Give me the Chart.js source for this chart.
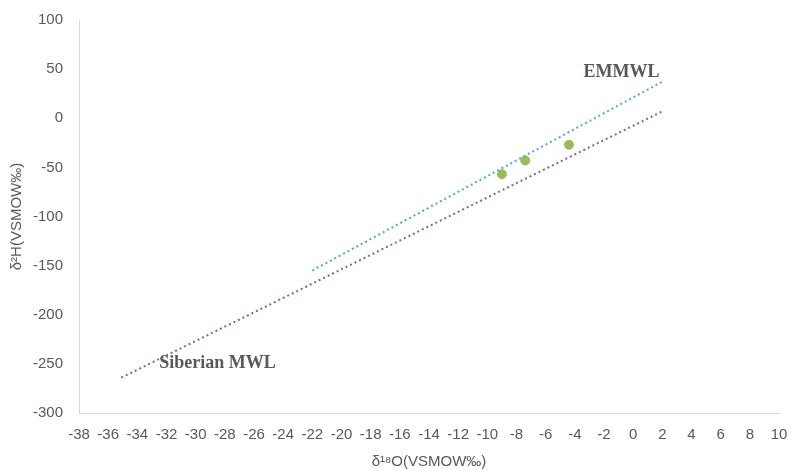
<!DOCTYPE html>
<html>
<head>
<meta charset="utf-8">
<script src="https://cdn.jsdelivr.net/npm/chart.js@4/dist/chart.umd.min.js"></script>
<style>
  html, body { margin: 0; padding: 0; background: #fff; }
  #wrap { width: 791px; height: 471px; }
</style>
</head>
<body>
<div id="wrap"><canvas id="isoChart" width="791" height="471"></canvas></div>
<script>
// dados
const amostrasX = [-9.0, -7.4, -4.4];
const amostrasY = [-57, -43, -27];

const emmwlX = [-22, 2.1];
const emmwlY = [-155, 38];

const siberiaX = [-35.1, 2.0];
const siberiaY = [-264, 7];

// rótulos das retas (posição em unidades do gráfico)
const rotulos = ['EMMWL', 'Siberian MWL'];
const rotulosX = [-0.8, -28.5];
const rotulosY = [47, -249];

const pontos = (xs, ys) => xs.map((x, i) => ({ x: x, y: ys[i] }));
const cinza = '#595959';
const fonte = '"Liberation Sans", Arial, sans-serif';

const rotulosPlugin = {
  id: 'rotulos',
  afterDatasetsDraw(chart) {
    const { ctx, scales } = chart;
    ctx.save();
    ctx.font = 'bold 18px "Liberation Serif", "Times New Roman", serif';
    ctx.fillStyle = cinza;
    ctx.textAlign = 'center';
    ctx.textBaseline = 'middle';
    rotulos.forEach((t, i) => {
      ctx.fillText(t, scales.x.getPixelForValue(rotulosX[i]), scales.y.getPixelForValue(rotulosY[i]));
    });
    ctx.restore();
  }
};

new Chart(document.getElementById('isoChart'), {
  type: 'scatter',
  data: {
    datasets: [
      {
        label: 'EMMWL',
        data: pontos(emmwlX, emmwlY),
        showLine: true,
        borderColor: '#4bacc6',
        borderWidth: 2,
        borderDash: [2, 3],
        pointRadius: 0
      },
      {
        label: 'Siberian MWL',
        data: pontos(siberiaX, siberiaY),
        showLine: true,
        borderColor: '#8064a2',
        borderWidth: 2,
        borderDash: [2, 3],
        pointRadius: 0
      },
      {
        label: 'Amostras',
        data: pontos(amostrasX, amostrasY),
        backgroundColor: '#9bbb59',
        borderColor: '#9bbb59',
        pointRadius: 4.5
      }
    ]
  },
  options: {
    responsive: false,
    animation: false,
    layout: { padding: { top: 20, right: 12, left: 0, bottom: 0 } },
    plugins: {
      legend: { display: false },
      tooltip: { enabled: false }
    },
    scales: {
      x: {
        type: 'linear',
        min: -38,
        max: 10,
        grid: { display: false, drawTicks: false },
        border: { display: true, color: '#d9d9d9', width: 1 },
        ticks: {
          stepSize: 2,
          color: cinza,
          padding: 13,
          maxRotation: 0,
          autoSkip: false,
          font: { family: fonte, size: 15 }
        },
        title: {
          display: true,
          text: 'δ¹⁸O(VSMOW‰)',
          color: cinza,
          padding: { top: 4, bottom: 0 },
          font: { family: fonte, size: 15 }
        },
        afterFit(scale) {
          scale.height = 58;
          scale.paddingLeft = 0;
          scale.paddingRight = 0;
        }
      },
      y: {
        type: 'linear',
        min: -300,
        max: 100,
        grid: { display: false, drawTicks: false },
        border: { display: true, color: '#d9d9d9', width: 1 },
        ticks: {
          stepSize: 50,
          color: cinza,
          padding: 16,
          font: { family: fonte, size: 15 }
        },
        title: {
          display: true,
          text: 'δ²H(VSMOW‰)',
          color: cinza,
          padding: { top: 8, bottom: 0 },
          font: { family: fonte, size: 15 }
        },
        afterFit(scale) {
          scale.width = 79;
          scale.paddingTop = 0;
          scale.paddingBottom = 0;
        }
      }
    }
  },
  plugins: [rotulosPlugin]
});
</script>
</body>
</html>
